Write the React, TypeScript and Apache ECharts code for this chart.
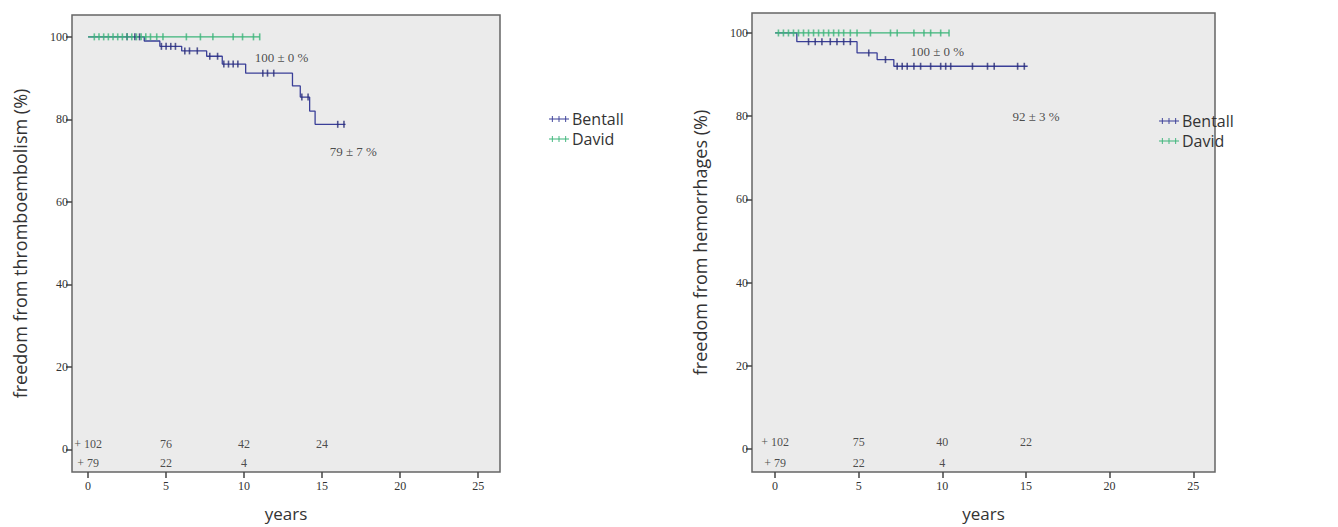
import React, { useEffect, useRef } from "react";
import * as echarts from "echarts";

const xTicks = [0, 5, 10, 15, 20, 25];
const yTicks = [0, 20, 40, 60, 80, 100];
const seriesNames = ["Bentall", "David"];

// Left panel: freedom from thromboembolism
const teBentallTimes = [0, 3.6, 4.6, 6.0, 7.6, 8.6, 10.1, 13.1, 13.6, 14.2, 14.55, 16.5];
const teBentallValues = [100, 99, 97.7, 96.6, 95.3, 93.4, 91.2, 88.1, 85.4, 82, 78.8, 78.8];
const teBentallCensored = [2.5, 3.0, 3.3, 4.7, 5.0, 5.3, 5.6, 6.2, 6.5, 7.0, 7.8, 8.3, 8.7, 9.0, 9.3, 9.6, 11.2, 11.5, 11.9, 13.7, 14.1, 16.0, 16.4];
const teDavidTimes = [0, 11.0];
const teDavidValues = [100, 100];
const teDavidCensored = [0.4, 0.7, 1.0, 1.3, 1.6, 1.9, 2.2, 2.5, 2.8, 3.1, 3.4, 3.7, 4.0, 4.4, 4.8, 6.3, 7.2, 8.0, 9.3, 9.9, 10.6, 11.0];
const teBentallAtRisk = [102, 76, 42, 24];
const teDavidAtRisk = [79, 22, 4];
const teLabels = ["100 ± 0 %", "79 ± 7 %"];

// Right panel: freedom from hemorrhages
const hemBentallTimes = [0, 1.3, 4.9, 6.1, 7.1, 15.1];
const hemBentallValues = [100, 97.9, 95.2, 93.6, 92.0, 92.0];
const hemBentallCensored = [2.0, 2.4, 2.8, 3.3, 3.7, 4.1, 4.5, 5.6, 6.6, 7.3, 7.6, 7.9, 8.3, 8.7, 9.3, 9.9, 10.2, 10.5, 11.8, 12.7, 13.1, 14.5, 14.9];
const hemDavidTimes = [0, 10.4];
const hemDavidValues = [100, 100];
const hemDavidCensored = [0.2, 0.5, 0.8, 1.1, 1.4, 1.7, 2.0, 2.3, 2.6, 2.9, 3.2, 3.5, 3.8, 4.1, 4.5, 4.9, 5.7, 6.9, 7.3, 8.3, 8.9, 9.3, 9.9, 10.4];
const hemBentallAtRisk = [102, 75, 40, 22];
const hemDavidAtRisk = [79, 22, 4];
const hemLabels = ["100 ± 0 %", "92 ± 3 %"];

const atRiskYears = [0, 5, 10, 15];

const BENTALL = "#3a3f98";
const BENTALL_MARK = "#2a2e78";
const DAVID = "#3db57a";
const SERIF = "'Liberation Serif', 'DejaVu Serif', serif";
const SANS = "'Open Sans', 'Liberation Sans', sans-serif";

const stepAt = (times: number[], values: number[], t: number) => {
  let v = values[0];
  for (let i = 0; i < times.length; i++) if (times[i] <= t) v = values[i];
  return v;
};

const legendIcon =
  "path://M0,4.3h30v1.4h-30z M4.3,0.5h1.4v9h-1.4z M14.3,0.5h1.4v9h-1.4z M24.3,0.5h1.4v9h-1.4z";

function panelSeries(
  idx: number,
  bT: number[], bV: number[], bC: number[],
  dT: number[], dV: number[], dC: number[],
  bRisk: number[], dRisk: number[],
  labels: string[], labelPos: number[][],
  riskY: number[]
) {
  const base = { xAxisIndex: idx, yAxisIndex: idx, silent: true };
  const textLabel = (fs: number) => ({
    show: true,
    position: "inside",
    formatter: (p: any) => p.value[2],
    fontFamily: SERIF,
    fontSize: fs,
    color: "#222",
  });
  return [
    {
      ...base, name: seriesNames[0], type: "line", step: "end", showSymbol: false,
      data: bT.map((t, i) => [t, bV[i]]),
      lineStyle: { color: BENTALL, width: 1.3 }, itemStyle: { color: BENTALL }, z: 3,
    },
    {
      ...base, name: seriesNames[1], type: "line", step: "end", showSymbol: false,
      data: dT.map((t, i) => [t, dV[i]]),
      lineStyle: { color: DAVID, width: 1.3 }, itemStyle: { color: DAVID }, z: 4,
    },
    {
      ...base, name: "Bentall censored", type: "scatter", symbol: "rect", symbolSize: [1.6, 7],
      data: bC.map((t) => [t, stepAt(bT, bV, t)]),
      itemStyle: { color: BENTALL_MARK }, z: 5,
    },
    {
      ...base, name: "David censored", type: "scatter", symbol: "rect", symbolSize: [1.6, 7],
      data: dC.map((t) => [t, stepAt(dT, dV, t)]),
      itemStyle: { color: DAVID }, z: 6,
    },
    {
      ...base, name: "at risk Bentall", type: "scatter", symbolSize: 0.1,
      itemStyle: { color: "transparent" },
      data: bRisk.map((n, i) => [atRiskYears[i], riskY[0], (i === 0 ? "+ " : "") + n]),
      label: textLabel(12), z: 7,
    },
    {
      ...base, name: "at risk David", type: "scatter", symbolSize: 0.1,
      itemStyle: { color: "transparent" },
      data: dRisk.map((n, i) => [atRiskYears[i], riskY[1], (i === 0 ? "+ " : "") + n]),
      label: textLabel(12), z: 7,
    },
    {
      ...base, name: "estimates", type: "scatter", symbolSize: 0.1,
      itemStyle: { color: "transparent" },
      data: labels.map((s, i) => [labelPos[i][0], labelPos[i][1], s]),
      label: textLabel(13), z: 7,
    },
  ];
}

function xAxis(idx: number, min: number, max: number) {
  return {
    gridIndex: idx, type: "value", min, max,
    axisLine: { show: false, onZero: false },
    splitLine: { show: false },
    axisTick: { show: true, customValues: xTicks, length: 6, lineStyle: { color: "#444", width: 1.5 } },
    axisLabel: { customValues: xTicks, fontFamily: SERIF, fontSize: 12, color: "#333", margin: 8 },
    name: "years", nameLocation: "middle", nameGap: 33,
    nameTextStyle: { fontFamily: SANS, fontSize: 17, color: "#333" },
  };
}

function yAxis(idx: number, min: number, max: number, name: string) {
  return {
    gridIndex: idx, type: "value", min, max,
    axisLine: { show: false, onZero: false },
    splitLine: { show: false },
    axisTick: { show: true, customValues: yTicks, length: 6, lineStyle: { color: "#444", width: 1.5 } },
    axisLabel: { customValues: yTicks, fontFamily: SERIF, fontSize: 12, color: "#333", margin: 4 },
    name, nameLocation: "middle", nameGap: 43,
    nameTextStyle: { fontFamily: SANS, fontSize: 18, color: "#333" },
  };
}

function legend(left: number, top: number) {
  return {
    orient: "vertical", left, top, itemWidth: 20, itemHeight: 8, itemGap: 4,
    selectedMode: false,
    textStyle: { fontFamily: SANS, fontSize: 16, color: "#333", padding: [0, 0, 0, -2] },
    data: [
      { name: seriesNames[0], icon: legendIcon, itemStyle: { color: BENTALL } },
      { name: seriesNames[1], icon: legendIcon, itemStyle: { color: DAVID } },
    ],
  };
}

export default function App() {
  const ref = useRef<HTMLDivElement>(null);
  useEffect(() => {
    if (!ref.current) return;
    const chart = echarts.init(ref.current, undefined, { renderer: "svg" });
    const gridStyle = { show: true, backgroundColor: "#ebebeb", borderColor: "#666", borderWidth: 1.5 };
    chart.setOption({
      animation: false,
      backgroundColor: "#ffffff",
      grid: [
        { ...gridStyle, left: 72, top: 15, width: 428, height: 461 },
        { ...gridStyle, left: 752, top: 13, width: 463, height: 462 },
      ],
      legend: [legend(544, 106), legend(1154, 108)],
      xAxis: [xAxis(0, -1.03, 26.4), xAxis(1, -1.38, 26.3)],
      yAxis: [
        yAxis(0, -5.5, 105.3, "freedom from thromboembolism (%)"),
        yAxis(1, -5.5, 104.8, "freedom from hemorrhages (%)"),
      ],
      series: [
        ...panelSeries(0, teBentallTimes, teBentallValues, teBentallCensored,
          teDavidTimes, teDavidValues, teDavidCensored,
          teBentallAtRisk, teDavidAtRisk, teLabels, [[12.4, 95], [17.0, 72.1]], [1.4, -3.4]),
        ...panelSeries(1, hemBentallTimes, hemBentallValues, hemBentallCensored,
          hemDavidTimes, hemDavidValues, hemDavidCensored,
          hemBentallAtRisk, hemDavidAtRisk, hemLabels, [[9.7, 95.5], [15.6, 80]], [1.7, -3.3]),
      ],
    });
    return () => chart.dispose();
  }, []);
  return (
    <div
      ref={ref}
      style={{ position: "fixed", left: 0, top: 0, width: 1338, height: 527, background: "#fff" }}
    />
  );
}
